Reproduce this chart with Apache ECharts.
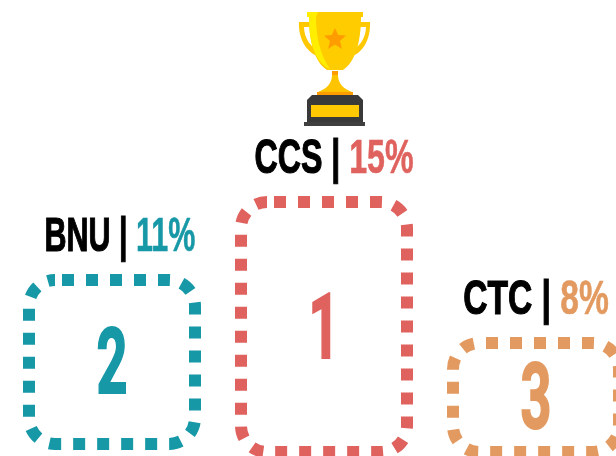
<!DOCTYPE html>
<html><head><meta charset="utf-8">
<style>html,body{margin:0;padding:0;background:#fff;overflow:hidden}#c{width:616px;height:456px}</style>
<script src="https://cdn.jsdelivr.net/npm/echarts@6/dist/echarts.min.js"></script>
</head><body><div id="c"></div>
<script>
var categories = ['BNU', 'CCS', 'CTC'];
var shares = [11.15, 15.05, 8];
var ranks = [2, 1, 3];
var podiumFloors = [2.95, 2.55, 2.55];
var colors = ['#1798A7', '#DF625E', '#E39A60'];

var FONT = '"Liberation Sans Narrow","Liberation Sans",sans-serif';
var labelShift = [8, 10, 0];
var labelScale = [0.635, 0.67, 0.7];
var chart = echarts.init(document.getElementById('c'), null, {renderer: 'canvas'});

function renderPodium(params, api) {
  var i = api.value(0);
  var top = api.coord([i, api.value(1)]);
  var bottom = api.coord([i, api.value(2)]);
  var w = 166, x = top[0] - w / 2, h = bottom[1] - top[1];
  var c = colors[i];
  return {
    type: 'group',
    children: [
      {type: 'rect', shape: {x: x, y: top[1], width: w, height: h, r: 26},
       style: {fill: 'none', stroke: c, lineWidth: 12, lineDash: [12, 12], lineDashOffset: -7}},
      {type: 'text', x: top[0], y: top[1] + h / 2 + 8, scaleX: 0.6,
       style: {text: String(ranks[i]), fill: c, stroke: c, lineWidth: 2, font: 'bold 90px Roboto,' + FONT, align: 'center', verticalAlign: 'middle'}},
      {type: 'text', x: top[0] + labelShift[i], y: top[1] - 42, scaleX: labelScale[i],
       style: {
         text: '{n|' + categories[i] + ' | }{v|' + Math.round(shares[i]) + '%}',
         font: 'bold 48px ' + FONT, align: 'center', verticalAlign: 'middle',
         rich: {
           n: {font: 'bold 48px ' + FONT, fill: '#000', stroke: '#000', lineWidth: 1.2},
           v: {font: 'bold 48px ' + FONT, fill: c, stroke: c, lineWidth: 0.6}
         }
       }}
    ]
  };
}

var trophy = [
  {d: 'M299 22 H312 V27 H304 C304 38 311 48 321 52 L323 58 C308 55 298 40 299 22 Z M370 22 H358 V27 H366 C366 38 359 48 349 52 L347 58 C362 55 371 40 370 22 Z', f: '#FFC800'},
  {d: 'M307 12 H363 V17 H361 C361 45 354 63 343 70 H327 C316 63 309 45 309 17 H307 Z', f: '#FFCC00'},
  {d: 'M307 12 H318 L316 17 C316 40 322 58 330 69 C316 63 309 45 309 17 H307 Z', f: '#FFEE00'},
  {d: 'M335 28 L338.2 35 L346 35.5 L340 41 L342 49 L335 44.5 L328 49 L330 41 L324 35.5 L331.8 35 Z', f: '#FF9D00'},
  {d: 'M332 71 H338 V75 H332 Z', f: '#FF9D00'},
  {d: 'M332 75 H338 C338 84 344 89 352 92 H318 C326 89 332 84 332 75 Z', f: '#FFC400'},
  {d: 'M317 92 H353 V96 H317 Z', f: '#FF9D00'},
  {d: 'M312 95 H358 L363 100 V122 H307 V100 Z', f: '#393939'},
  {d: 'M304 122 H365 V126 H304 Z', f: '#3F3F3F'},
  {d: 'M311 105 H359 V117 H311 Z', f: '#FFC800'}
];

chart.setOption({
  animation: false,
  backgroundColor: '#fff',
  grid: {left: 6, width: 636, top: 3, height: 500, outerBoundsMode: 'none'},
  xAxis: {type: 'category', data: categories, show: false},
  yAxis: {type: 'value', min: 0, max: 25, show: false},
  series: [{
    type: 'custom',
    clip: false,
    coordinateSystem: 'cartesian2d',
    renderItem: renderPodium,
    encode: {x: 0, y: 1},
    data: categories.map(function (_, i) { return [i, shares[i], podiumFloors[i]]; })
  }, {
    type: 'custom',
    clip: false,
    silent: true,
    coordinateSystem: 'none',
    renderItem: function (params) {
      var p = trophy[params.dataIndex];
      return {type: 'path', shape: {pathData: p.d}, style: {fill: p.f}};
    },
    data: trophy.map(function (_, i) { return [i]; })
  }]
});
</script></body></html>
